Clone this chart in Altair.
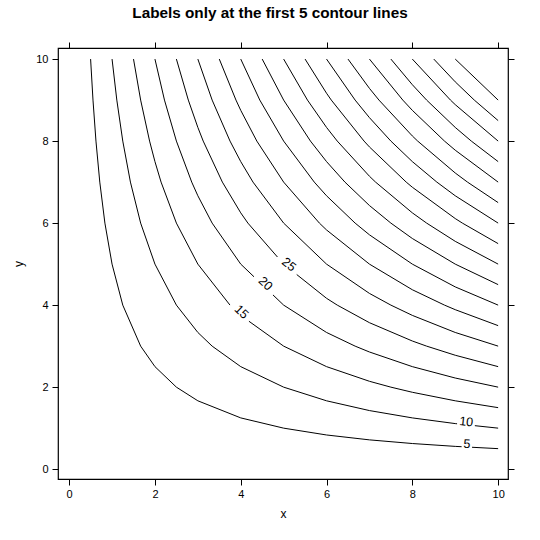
import math
import numpy as np
import pandas as pd
import altair as alt

# Regular grid and the surface z = x * y sampled on it
grid_x = [0, 1, 2, 3, 4, 5, 6, 7, 8, 9, 10]
grid_y = [0, 1, 2, 3, 4, 5, 6, 7, 8, 9, 10]
levels = [5, 10, 15, 20, 25, 30, 35, 40, 45, 50, 55, 60, 65, 70, 75, 80, 85, 90]

# Only the first five levels carry a label, placed at these x positions
labelled_levels = [5, 10, 15, 20, 25]
label_at_x = [9.27, 9.25, 3.97, 4.53, 5.08]

X_DOMAIN = [-0.26, 10.23]
Y_DOMAIN = [-0.24, 10.27]
W, H = 450, 431
PX = W / (X_DOMAIN[1] - X_DOMAIN[0])
PY = H / (Y_DOMAIN[1] - Y_DOMAIN[0])
LABEL_FONT = 12.5

gx = np.array(grid_x, dtype=float)
gy = np.array(grid_y, dtype=float)
Z = np.outer(gx, gy)  # Z[i, j] = value at (gx[i], gy[j])


def contour_points(k):
    """Linear-interpolated crossings of level k on every grid edge, ordered by x."""
    pts = set()
    for i in range(len(gx)):
        for j in range(len(gy) - 1):
            z0, z1 = Z[i, j], Z[i, j + 1]
            if z0 != z1 and (z0 - k) * (z1 - k) <= 0:
                y = gy[j] + (k - z0) / (z1 - z0) * (gy[j + 1] - gy[j])
                pts.add((round(gx[i], 9), round(y, 9)))
    for j in range(len(gy)):
        for i in range(len(gx) - 1):
            z0, z1 = Z[i, j], Z[i + 1, j]
            if z0 != z1 and (z0 - k) * (z1 - k) <= 0:
                x = gx[i] + (k - z0) / (z1 - z0) * (gx[i + 1] - gx[i])
                pts.add((round(x, 9), round(gy[j], 9)))
    return sorted(pts)


line_rows = []
label_rows = []
for k in levels:
    pts = contour_points(k)
    xs = np.array([p[0] for p in pts])
    ys = np.array([p[1] for p in pts])
    if k in labelled_levels:
        lx = label_at_x[labelled_levels.index(k)]
        ly = float(np.interp(lx, xs, ys))
        # local slope of the polyline, in screen pixels
        idx = max(1, min(len(xs) - 1, int(np.searchsorted(xs, lx))))
        slope = (ys[idx] - ys[idx - 1]) * PY / ((xs[idx] - xs[idx - 1]) * PX)
        ang = math.degrees(math.atan(-slope))
        text = str(k)
        tw = 0.556 * LABEL_FONT * len(text) + 1
        th = 9
        a = math.radians(ang)
        half_px = (tw * math.cos(a) + th * math.sin(a)) / 2 + 1
        lo, hi = lx - half_px / PX, lx + half_px / PX
        seg0 = [(x, y) for x, y in zip(xs, ys) if x < lo] + [(lo, float(np.interp(lo, xs, ys)))]
        seg1 = [(hi, float(np.interp(hi, xs, ys)))] + [(x, y) for x, y in zip(xs, ys) if x > hi]
        for s, seg in enumerate([seg0, seg1]):
            for o, (x, y) in enumerate(seg):
                line_rows.append({"level": k, "seg": s, "order": o, "x": x, "y": y})
        label_rows.append({"level": k, "text": text, "x": lx, "y": ly, "angle": ang})
    else:
        for o, (x, y) in enumerate(zip(xs, ys)):
            line_rows.append({"level": k, "seg": 0, "order": o, "x": float(x), "y": float(y)})

lines_df = pd.DataFrame(line_rows)
labels_df = pd.DataFrame(label_rows)

xscale = alt.Scale(domain=X_DOMAIN, nice=False, zero=False)
yscale = alt.Scale(domain=Y_DOMAIN, nice=False, zero=False)
ticks = [0, 2, 4, 6, 8, 10]

tick_style = dict(
    values=ticks, grid=False, domain=False, tickColor="black", tickSize=6,
    tickWidth=1, labelFont="Liberation Sans", labelFontSize=11, labelColor="black",
)
title_style = dict(
    titleFont="Liberation Sans", titleFontSize=12, titleFontWeight="normal",
    titleColor="black",
)

contours = alt.Chart(lines_df).mark_line(color="black", strokeWidth=1).encode(
    x=alt.X("x:Q", scale=xscale,
            axis=alt.Axis(orient="bottom", title="x", labelPadding=3, titlePadding=9,
                          **tick_style, **title_style)),
    y=alt.Y("y:Q", scale=yscale,
            axis=alt.Axis(orient="left", title="y", labelAngle=0, labelPadding=4,
                          titlePadding=10, **tick_style, **title_style)),
    detail=["level:N", "seg:N"],
    order="order:Q",
)

# Tick marks on the opposite sides, without labels
mirror = alt.Chart(lines_df).mark_point(opacity=0).encode(
    x=alt.X("x:Q", scale=xscale,
            axis=alt.Axis(orient="top", title="", labels=False, **tick_style)),
    y=alt.Y("y:Q", scale=yscale,
            axis=alt.Axis(orient="right", title="", labels=False, **tick_style)),
)

labels = alt.Chart(labels_df).mark_text(
    font="Liberation Sans", fontSize=LABEL_FONT, color="black", baseline="middle",
    align="center", dy=-3,
).encode(
    x=alt.X("x:Q", scale=xscale, axis=None),
    y=alt.Y("y:Q", scale=yscale, axis=None),
    text="text:N",
    angle=alt.Angle("angle:Q", scale=None),
)

chart = alt.layer(contours, labels, mirror).resolve_axis(
    x="independent", y="independent"
).properties(
    width=W, height=H,
    title=alt.TitleParams("Labels only at the first 5 contour lines",
                          font="Liberation Sans", fontSize=15.3, fontWeight="bold",
                          color="black", anchor="middle", offset=20, dx=-13),
    autosize=alt.AutoSizeParams(type="none"),
    padding={"left": 58, "top": 48, "right": 32, "bottom": 61},
    background="white",
).configure_view(stroke="black", strokeWidth=1.2)

chart.save("out.html", embed_options={"renderer": "svg", "actions": False})
